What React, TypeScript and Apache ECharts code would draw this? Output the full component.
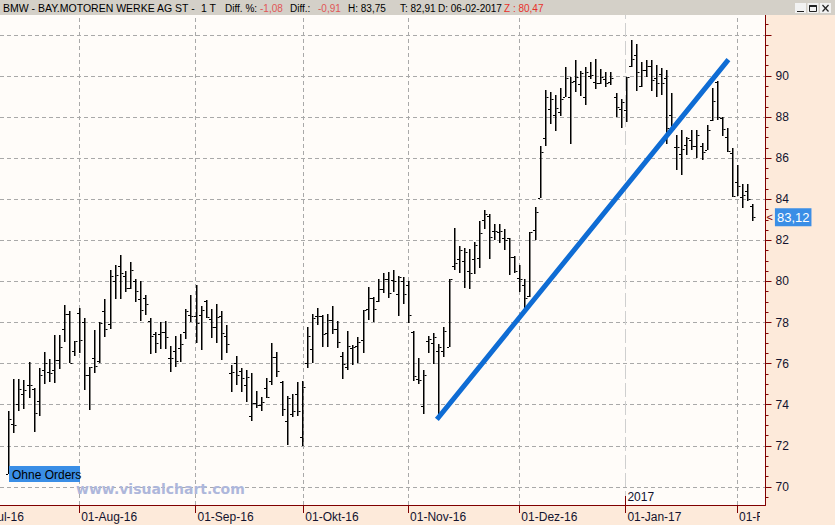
import React, { useEffect, useRef } from "react";
import * as echarts from "echarts";

// ---- daily OHLC bars (BMW, 12 Jul 2016 .. 06 Feb 2017), one per trading day ----
const opens = [
  70.65, 73.06, 74.03, 74.52, 74.96, 74.76, 74.2, 75.71, 75.58, 75.71, 76.16, 77.69, 78.41, 76.6,
  78.46, 78.02, 75.45, 76.26, 76.15, 78.55, 77.92, 80.0, 80.75, 80.26, 79.69, 80.0, 79.15, 79.2, 78.1, 77.45, 77.45, 77.53, 76.26, 76.6, 76.76, 77.53, 78.39,
  78.34, 78.39, 79.07, 78.18, 77.77, 78.34, 77.37, 75.54, 76.02, 75.66, 74.98, 73.46, 74.07, 73.98, 74.8, 75.17, 76.34, 75.09, 73.2, 73.54, 74.52, 72.41,
  76.03, 76.72, 78.31, 78.34, 77.48, 78.13, 77.69, 76.39, 75.82, 76.75, 76.88, 77.15, 78.67, 79.19, 79.07, 79.64, 80.13, 80.05, 79.4, 80.0,
  79.85, 77.55, 75.26, 73.95, 77.08, 77.0, 76.6, 76.63, 76.8, 80.77, 81.08, 81.0, 80.5, 81.08, 81.13, 82.99, 83.19, 82.48, 82.4, 82.1, 82.12, 81.2,
  80.18, 79.85, 79.3, 82.5, 84.06, 86.97, 88.38, 88.1, 88.23, 89.0, 88.96, 89.76, 89.59, 88.96, 90.0, 89.72, 89.68, 89.84, 89.69, 89.0, 88.38,
  88.35, 90.49, 91.02, 89.51, 90.29, 90.5, 89.9, 90.1, 89.9, 88.11, 86.54, 86.21, 86.65, 86.9, 86.57, 86.57, 86.41, 87.87, 89.7, 87.95, 87.02, 86.24,
  84.86, 84.13, 84.41, 83.69,
];
const highs = [
  73.71, 75.25, 75.25, 75.2, 76.07, 74.8, 75.77, 76.55, 76.23, 77.4, 77.4, 78.86, 78.57, 77.12,
  78.7, 78.23, 75.85, 77.64, 78.02, 79.15, 80.54, 80.78, 81.27, 80.5, 80.94, 80.13, 80.0, 79.32, 78.24, 77.53, 78.02, 78.07, 76.88, 77.33, 77.45, 78.67, 79.35,
  79.85, 78.83, 79.11, 78.67, 78.89, 78.54, 77.89, 75.93, 76.39, 75.79, 75.69, 75.54, 74.67, 74.39, 75.28, 76.99, 76.55, 75.14, 74.41, 74.54, 75.12, 75.17,
  77.77, 78.42, 78.7, 78.37, 78.42, 78.83, 78.08, 76.59, 77.61, 76.91, 77.28, 78.63, 79.72, 79.22, 80.13, 80.42, 80.46, 80.57, 80.29, 80.23,
  80.03, 77.6, 76.27, 75.7, 77.35, 77.48, 76.95, 77.76, 80.12, 82.58, 81.73, 81.65, 81.57, 81.94, 82.93, 83.5, 83.3, 82.82, 82.82, 82.56, 82.12, 81.26,
  80.78, 80.1, 82.4, 83.62, 86.6, 89.32, 89.24, 89.06, 89.42, 90.45, 89.94, 90.78, 90.24, 90.45, 90.66, 90.83, 90.34, 90.18, 90.18, 89.19, 88.88,
  89.97, 91.75, 91.54, 90.66, 90.78, 90.78, 90.55, 90.39, 90.31, 89.17, 87.14, 87.38, 87.02, 87.38, 87.38, 86.76, 87.63, 89.41, 89.77, 88.0, 87.46, 86.52,
  85.67, 84.75, 84.75, 83.75,
];
const lows = [
  70.62, 72.62, 73.69, 73.79, 74.33, 72.68, 73.41, 74.98, 75.12, 75.06, 75.74, 77.07, 76.02, 76.39,
  76.52, 74.73, 73.74, 75.54, 76.03, 77.32, 77.67, 79.12, 79.11, 79.48, 79.61, 78.99, 78.05, 78.37, 76.49, 76.5, 76.72, 76.72, 75.61, 75.82, 76.1, 77.2, 78.02,
  77.04, 76.68, 78.24, 77.28, 77.01, 76.15, 76.55, 74.6, 74.98, 74.63, 74.15, 73.22, 73.82, 73.71, 74.31, 74.96, 75.33, 73.46, 72.03, 73.43, 73.46, 72.0,
  75.79, 76.02, 77.85, 76.83, 76.83, 77.48, 76.75, 75.28, 75.71, 75.93, 76.03, 76.55, 78.1, 78.02, 79.02, 79.45, 79.19, 79.51, 78.34, 78.92,
  78.0, 75.18, 75.02, 73.55, 76.5, 75.98, 73.38, 76.3, 76.8, 80.53, 80.43, 79.7, 79.64, 80.4, 80.63, 82.56, 81.12, 82.04, 81.9, 81.52, 80.32, 80.45,
  79.48, 78.67, 79.26, 81.99, 84.06, 86.6, 87.67, 87.3, 88.06, 89.0, 86.69, 89.24, 89.04, 88.59, 89.85, 89.37, 89.61, 89.45, 89.53, 88.02, 87.49,
  87.78, 90.45, 89.24, 89.45, 89.97, 89.29, 88.98, 89.09, 86.73, 87.38, 85.46, 85.17, 86.13, 86.41, 86.03, 85.95, 86.41, 87.79, 87.87, 87.06, 86.28, 84.13,
  84.16, 83.59, 83.93, 82.91,
];
const closes = [
  73.33, 73.01, 74.76, 74.72, 74.96, 73.59, 75.45, 76.03, 75.54, 76.16, 76.81, 78.41, 76.02, 77.09,
  77.14, 75.45, 75.84, 75.9, 77.98, 77.69, 80.29, 80.33, 80.42, 79.67, 80.57, 79.56, 78.63, 78.91, 77.37, 77.01, 77.53, 77.32, 76.26, 76.13, 76.96, 78.55, 78.34,
  77.97, 78.59, 78.26, 77.77, 78.26, 77.48, 76.96, 75.58, 75.45, 75.28, 75.33, 74.07, 73.98, 74.11, 74.36, 76.31, 75.63, 73.79, 74.31, 73.71, 73.71, 74.85,
  77.33, 78.23, 78.31, 77.45, 78.13, 77.69, 77.04, 75.98, 76.85, 76.8, 77.07, 78.6, 79.2, 78.67, 79.61, 80.1, 79.45, 80.02, 80.21, 79.38,
  78.35, 75.4, 75.2, 75.46, 77.19, 77.32, 76.8, 77.6, 80.1, 80.9, 81.54, 81.45, 80.4, 81.78, 82.38, 83.27, 82.18, 82.48, 82.45, 82.04, 81.2, 80.5,
  80.1, 79.2, 82.39, 83.38, 86.3, 89.0, 88.9, 88.45, 88.88, 89.89, 89.72, 89.97, 90.13, 90.21, 90.05, 89.64, 89.97, 89.68, 89.89, 88.48, 88.75,
  89.94, 90.81, 90.18, 90.29, 90.49, 89.81, 89.66, 89.66, 87.46, 87.41, 86.54, 86.44, 86.98, 86.57, 87.14, 86.28, 87.38, 88.8, 88.0, 87.41, 86.33, 84.16,
  84.65, 84.21, 84.03, 83.12,
];

// ---- axis: month starts (position in trading-day index) and their labels ----
const monthLabels = ["01-Jul-16", "01-Aug-16", "01-Sep-16", "01-Okt-16", "01-Nov-16", "01-Dez-16", "01-Jan-17", "01-Feb-17"];
const monthPos = [-7.2, 14, 37, 58.3, 79, 101, 121.95, 144];
const yearLabel = "2017";
const yearPos = 121.95;

// price axis
const priceLabels = [70, 72, 74, 76, 78, 80, 82, 84, 86, 88, 90];
const priceGrid = [70, 72, 74, 76, 78, 80, 82, 84, 86, 88, 90, 92];

// trend line drawn on the chart (bar index, price)
const trendLine = [
  [85, 73.38],
  [142, 90.7],
];

const titleName = "BMW - BAY.MOTOREN WERKE AG ST -";
const zValue = "80,47";

const fmt = (v: number) => v.toFixed(2).replace(".", ",");

export default function App() {
  const ref = useRef<HTMLDivElement>(null);

  useEffect(() => {
    if (!ref.current) return;
    const chart = echarts.init(ref.current, null, { renderer: "svg" });

    const n = closes.length;
    const last = n - 1;
    const diff = closes[last] - closes[last - 1];
    const diffPct = (diff / closes[last - 1]) * 100;

    const ohlc = opens.map((o, i) => [i, o, highs[i], lows[i], closes[i]]);

    const minorTicks: number[] = [];
    for (let v = 69.5; v <= 92.6; v += 0.5) {
      if (Math.abs(v / 2 - Math.round(v / 2)) > 0.01) minorTicks.push(Number(v.toFixed(1)));
    }

    const AX = "#800000";
    const TXT = "#12122e";
    const FONT = "Liberation Sans";
    const XMIN = -1.64;
    const XMAX = 149.64;
    const YMIN = 69.12;
    const YMAX = 92.97;

    const visibleMonths = monthPos.map((m, i) => i).filter((i) => monthPos[i] >= XMIN);

    const gridLines: any[] = [];
    priceGrid.forEach((p) =>
      gridLines.push({ yAxis: p, lineStyle: { color: "#a9a9a9", type: [4, 3], width: 1 } })
    );
    visibleMonths.forEach((i) => {
      const m = monthPos[i];
      if (m === yearPos) {
        gridLines.push({ xAxis: m, lineStyle: { color: "#cfcfcf", type: [14, 4], width: 1 } });
      } else {
        gridLines.push({ xAxis: m, lineStyle: { color: "#a9a9a9", type: [4, 3], width: 1 } });
      }
    });

    const labelFor = (v: number) => {
      let best = 0;
      let d = Infinity;
      monthPos.forEach((m, i) => {
        if (Math.abs(m - v) < d) {
          d = Math.abs(m - v);
          best = i;
        }
      });
      return monthLabels[best];
    };

    const titleSegs: [string, number, string, number][] = [
      [titleName, 3, "#000", 10.5],
      ["1 T", 201, "#000", 10.5],
      ["Diff. %:", 225, "#000", 10],
      [fmt(diffPct), 260, "#e05656", 10],
      ["Diff.:", 290, "#000", 10],
      [fmt(diff), 318, "#e05656", 10],
      ["H: " + fmt(highs[last]), 348, "#000", 10],
      ["T: " + fmt(lows[last]), 400, "#000", 10],
      ["D: 06-02-2017", 438, "#000", 10],
      ["Z : " + zValue, 504, "#e8302a", 10],
    ];

    const graphics: any[] = [
      { type: "rect", shape: { x: 0, y: 0, width: 835, height: 15 }, style: { fill: "#d4d0c8" }, z: 20 },
      ...titleSegs.map(([t, x, c, fs]) => ({
        type: "text",
        x,
        y: 8,
        z: 21,
        style: { text: t, fill: c, font: `${fs}px "${FONT}"`, verticalAlign: "middle" },
      })),
      // window buttons
      { type: "rect", shape: { x: 795, y: 3, width: 11, height: 10 }, style: { fill: "#f2f2f2" }, z: 21 },
      { type: "rect", shape: { x: 807.5, y: 3, width: 11, height: 10 }, style: { fill: "#f2f2f2" }, z: 21 },
      { type: "rect", shape: { x: 820, y: 3, width: 11, height: 10 }, style: { fill: "#f2f2f2" }, z: 21 },
      { type: "line", shape: { x1: 797, y1: 11.5, x2: 804, y2: 11.5 }, style: { stroke: "#222", lineWidth: 1 }, z: 22 },
      { type: "rect", shape: { x: 809.5, y: 5.5, width: 7, height: 6 }, style: { fill: "none", stroke: "#222", lineWidth: 1 }, z: 22 },
      { type: "line", shape: { x1: 809.5, y1: 6, x2: 816.5, y2: 6 }, style: { stroke: "#222", lineWidth: 2 }, z: 22 },
      { type: "line", shape: { x1: 822.5, y1: 5, x2: 828.5, y2: 11.5 }, style: { stroke: "#222", lineWidth: 1.2 }, z: 22 },
      { type: "line", shape: { x1: 828.5, y1: 5, x2: 822.5, y2: 11.5 }, style: { stroke: "#222", lineWidth: 1.2 }, z: 22 },
      // right price panel and its corner over the date axis
      { type: "rect", shape: { x: 766, y: 15, width: 69, height: 510 }, style: { fill: "#fdeada" }, z: 4 },
      { type: "rect", shape: { x: 760, y: 506, width: 7, height: 19 }, style: { fill: "#fdeada" }, z: 4 },
      // watermark
      {
        type: "text",
        x: 76,
        y: 489,
        z: 15,
        style: { text: "www.visualchart.com", fill: "#aeb7db", font: 'bold 14px "DejaVu Sans"', verticalAlign: "middle" },
      },
      // order label
      { type: "rect", shape: { x: 9, y: 466, width: 71, height: 16 }, style: { fill: "#3a8ee6" }, z: 15 },
      {
        type: "text",
        x: 12,
        y: 474.5,
        z: 16,
        style: { text: "Ohne Orders", fill: "#000", font: `12px "${FONT}"`, verticalAlign: "middle" },
      },
    ];

    const xLabelVals = visibleMonths.map((i) => monthPos[i]);

    const option: any = {
      animation: false,
      backgroundColor: "#fdeada",
      grid: {
        left: 0,
        right: 69.5,
        top: 15,
        bottom: 20,
        show: true,
        backgroundColor: "#fffcf9",
        borderWidth: 0,
      },
      xAxis: [
        {
          type: "value",
          position: "bottom",
          min: XMIN,
          max: XMAX,
          z: 1,
          axisLine: { show: true, onZero: false, lineStyle: { color: AX, width: 1 } },
          axisTick: { show: true, customValues: xLabelVals, length: 8, lineStyle: { color: AX } },
          axisLabel: {
            show: true,
            customValues: xLabelVals,
            formatter: (v: number) => labelFor(v),
            align: "left",
            margin: 6,
            padding: [0, 0, 0, 2],
            color: TXT,
            fontSize: 12,
            fontFamily: FONT,
            showMinLabel: true,
            showMaxLabel: true,
          },
          splitLine: { show: false },
        },
        {
          type: "value",
          position: "bottom",
          offset: 0,
          min: XMIN,
          max: XMAX,
          z: 1,
          axisLine: { show: false, onZero: false },
          axisTick: { show: true, inside: true, customValues: [yearPos], length: 9, lineStyle: { color: AX } },
          axisLabel: {
            show: true,
            inside: true,
            customValues: [yearPos],
            formatter: () => yearLabel,
            align: "left",
            margin: 2,
            padding: [0, 0, 0, 2],
            color: TXT,
            fontSize: 12,
            fontFamily: FONT,
          },
          splitLine: { show: false },
        },
      ],
      yAxis: [
        {
          type: "value",
          position: "right",
          min: YMIN,
          max: YMAX,
          z: 6,
          axisLine: { show: true, onZero: false, lineStyle: { color: AX, width: 1 } },
          axisTick: { show: true, customValues: minorTicks, length: 3, lineStyle: { color: AX } },
          axisLabel: { show: false },
          splitLine: { show: false },
        },
        {
          type: "value",
          position: "right",
          offset: 0,
          min: YMIN,
          max: YMAX,
          z: 6,
          axisLine: { show: false, onZero: false },
          axisTick: { show: true, customValues: priceGrid, length: 6, lineStyle: { color: AX } },
          axisLabel: {
            show: true,
            customValues: priceLabels,
            formatter: (v: number) => String(v),
            margin: 10,
            color: TXT,
            fontSize: 12,
            fontFamily: FONT,
          },
          splitLine: { show: false },
        },
      ],
      graphic: graphics,
      series: [
        {
          type: "line",
          data: [],
          z: 1,
          silent: true,
          markLine: {
            z: 1,
            silent: true,
            symbol: ["none", "none"],
            label: { show: false },
            animation: false,
            data: gridLines,
          },
        },
        {
          type: "custom",
          z: 2,
          data: ohlc,
          encode: { x: 0, y: [1, 2, 3, 4] },
          renderItem: (params: any, api: any) => {
            const i = api.value(0);
            const ph = api.coord([i, api.value(2)]);
            const pl = api.coord([i, api.value(3)]);
            const po = api.coord([i, api.value(1)]);
            const pc = api.coord([i, api.value(4)]);
            const cx = Math.round(ph[0]);
            return {
              type: "group",
              children: [
                {
                  type: "rect",
                  shape: { x: cx, y: Math.round(ph[1]), width: 1.5, height: Math.max(1, Math.round(pl[1] - ph[1])) },
                  style: { fill: "#000" },
                },
                {
                  type: "rect",
                  shape: { x: cx - 2, y: Math.round(po[1]), width: 2, height: 1 },
                  style: { fill: "#000" },
                },
                {
                  type: "rect",
                  shape: { x: cx + 1.5, y: Math.round(pc[1]), width: 2, height: 1 },
                  style: { fill: "#000" },
                },
              ],
            };
          },
        },
        {
          type: "line",
          z: 3,
          data: trendLine,
          symbol: "none",
          lineStyle: { color: "#0f6cd4", width: 5, cap: "square" },
          silent: true,
        },
        {
          type: "line",
          data: [],
          z: 8,
          clip: false,
          silent: true,
          markLine: {
            z: 8,
            silent: true,
            symbol: ["none", "none"],
            animation: false,
            lineStyle: { color: "rgba(0,0,0,0)", width: 1 },
            data: [{ yAxis: closes[last] }],
            label: {
              show: true,
              position: "end",
              distance: 1,
              formatter: "{a|<}{b|" + fmt(closes[last]) + "}",
              rich: {
                a: { color: AX, fontSize: 11, fontFamily: FONT, padding: [0, 2, 0, 0] },
                b: {
                  color: "#ffffff",
                  backgroundColor: "#3a8ee6",
                  fontSize: 13,
                  fontFamily: FONT,
                  padding: [3, 2, 2, 2],
                },
              },
            },
          },
        },
      ],
    };

    chart.setOption(option);

    // the first month label starts left of the visible area and is cut by the window edge
    const julX = chart.convertToPixel({ xAxisIndex: 0 }, monthPos[0]) as unknown as number;
    chart.setOption({
      graphic: [
        ...graphics,
        {
          type: "text",
          x: julX + 2,
          y: 511,
          z: 2,
          style: { text: monthLabels[0], fill: TXT, font: `12px "${FONT}"`, verticalAlign: "top" },
        },
      ],
    });

    return () => chart.dispose();
  }, []);

  return <div ref={ref} style={{ position: "fixed", left: 0, top: 0, width: 835, height: 525 }} />;
}
